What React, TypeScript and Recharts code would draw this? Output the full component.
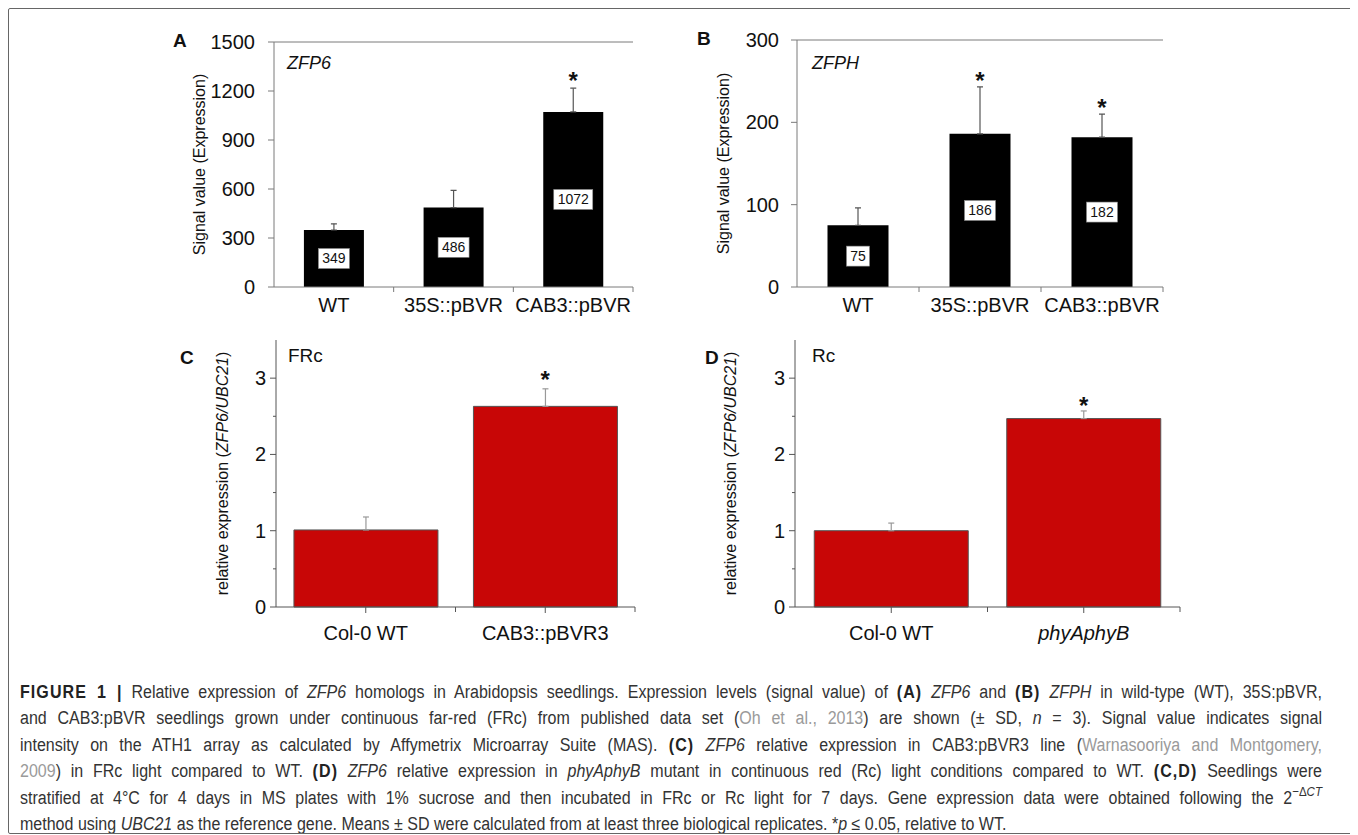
import React from "react";
import {
  ComposedChart,
  Bar,
  XAxis,
  YAxis,
  ErrorBar,
  Scatter,
  LabelList,
  ReferenceLine,
} from "recharts";

const FONT = 'Arial, "Liberation Sans", Helvetica, sans-serif';

// panel A – ZFP6 signal value
const aCategories = ["WT", "35S::pBVR", "CAB3::pBVR"];
const aValues = [349, 486, 1072];
const aSd = [38, 105, 145];
const aSig = [false, false, true];
const aTicks = [0, 300, 600, 900, 1200, 1500];

// panel B – ZFPH signal value
const bCategories = ["WT", "35S::pBVR", "CAB3::pBVR"];
const bValues = [75, 186, 182];
const bSd = [21, 57, 28];
const bSig = [false, true, true];
const bTicks = [0, 100, 200, 300];

// panel C – FRc, relative expression
const cCategories = ["Col-0 WT", "CAB3::pBVR3"];
const cValues = [1.01, 2.63];
const cSd = [0.17, 0.23];
const cSig = [false, true];

// panel D – Rc, relative expression
const dCategories = ["Col-0 WT", "phyAphyB"];
const dValues = [1.0, 2.47];
const dSd = [0.1, 0.1];
const dSig = [false, true];

const cdTicks = [0, 0.5, 1, 1.5, 2, 2.5, 3];

// the root's inner box starts at page (9, 9)
const OX = 9;
const OY = 9;

type Row = { name: string; value: number; err: [number, number]; star: number | null };

function buildRows(cats: string[], vals: number[], sds: number[], sig: boolean[]): Row[] {
  return cats.map((name, i) => ({
    name,
    value: vals[i],
    err: [0, sds[i]],
    star: sig[i] ? vals[i] + sds[i] : null,
  }));
}

function StarShape(props: any) {
  const { cx, cy, payload } = props;
  if (!payload || payload.star == null || !Number.isFinite(cx) || !Number.isFinite(cy)) return <g />;
  return (
    <text x={cx} y={cy + props.gap} textAnchor="middle" fontSize={24} fontWeight="bold" fontFamily={FONT} fill="#111">
      *
    </text>
  );
}

function ValueBox(props: any) {
  const vb = props.viewBox && Number.isFinite(props.viewBox.x) ? props.viewBox : props;
  const cx = vb.x + vb.width / 2;
  const cy = vb.y + vb.height / 2;
  const label = String(props.value);
  const w = label.length * 8 + 7;
  const h = 20;
  return (
    <g>
      <rect x={cx - w / 2} y={cy - h / 2} width={w} height={h} fill="#fff" stroke="#888" strokeWidth={0.6} />
      <text x={cx} y={cy + 5} textAnchor="middle" fontSize={14} fontFamily={FONT} fill="#111">
        {label}
      </text>
    </g>
  );
}

function makeXTick(n: number, plotW: number, opts: { labelGap: number; centerTick: boolean; stroke: string; italic?: string[] }) {
  const band = plotW / n;
  return (props: any) => {
    const { x, y, payload } = props;
    const it = opts.italic && opts.italic.includes(payload.value);
    return (
      <g>
        {opts.centerTick && <line x1={x} x2={x} y1={y} y2={y + 6} stroke={opts.stroke} />}
        <line x1={x + band / 2} x2={x + band / 2} y1={y} y2={y + 5} stroke={opts.stroke} />
        <text
          x={x}
          y={y + opts.labelGap}
          textAnchor="middle"
          fontSize={20}
          fontFamily={FONT}
          fontStyle={it ? "italic" : "normal"}
          fill="#111"
        >
          {payload.value}
        </text>
      </g>
    );
  };
}

function makeYTick(opts: { gap: number; stroke: string; minor?: boolean; fontSize: number }) {
  return (props: any) => {
    const { x, y, payload } = props;
    const v = payload.value as number;
    const isMinor = opts.minor && !Number.isInteger(v);
    return (
      <g>
        <line x1={x - (isMinor ? 3 : 6)} x2={x} y1={y} y2={y} stroke={opts.stroke} />
        {!isMinor && (
          <text x={x - opts.gap} y={y + 7} textAnchor="end" fontSize={opts.fontSize} fontFamily={FONT} fill="#111">
            {v}
          </text>
        )}
      </g>
    );
  };
}

type Part = { t: string; i?: boolean };

function makeYTitle(parts: Part[], dist: number, fontSize: number) {
  return (props: any) => {
    const vb = props.viewBox;
    if (!vb) return null;
    const cx = vb.x + vb.width - dist + fontSize * 0.35;
    const cy = vb.y + vb.height / 2;
    return (
      <text
        transform={`translate(${cx},${cy}) rotate(-90)`}
        textAnchor="middle"
        fontSize={fontSize}
        fontFamily={FONT}
        fill="#111"
      >
        {parts.map((p, k) => (
          <tspan key={k} fontStyle={p.i ? "italic" : "normal"}>
            {p.t}
          </tspan>
        ))}
      </text>
    );
  };
}

type PanelProps = {
  rows: Row[];
  left: number;
  top: number;
  width: number;
  height: number;
  margin: { top: number; right: number; bottom: number; left: number };
  yWidth: number;
  domain: [number, number];
  ticks: number[];
  yTick: (p: any) => React.ReactElement;
  xTick: (p: any) => React.ReactElement;
  yTitle: (p: any) => React.ReactElement | null;
  axisStroke: string;
  frame: boolean;
  barFill: string;
  barStroke?: string;
  errStroke: string;
  errWidth: number;
  gap: string;
  boxes: boolean;
  starGap: number;
};

function Panel(p: PanelProps) {
  return (
    <div style={{ position: "absolute", left: p.left - OX, top: p.top - OY }}>
      <ComposedChart width={p.width} height={p.height} data={p.rows} margin={p.margin} barCategoryGap={p.gap}>
        <XAxis
          dataKey="name"
          type="category"
          height={45}
          axisLine={{ stroke: p.axisStroke }}
          tickLine={false}
          tickSize={0}
          tickMargin={0}
          interval={0}
          tick={p.xTick}
        />
        <YAxis
          width={p.yWidth}
          domain={p.domain}
          ticks={p.ticks}
          interval={0}
          allowDecimals
          axisLine={{ stroke: p.axisStroke }}
          tickLine={false}
          tickSize={0}
          tickMargin={0}
          tick={p.yTick}
          label={p.yTitle}
        />
        {p.frame && (
          <YAxis yAxisId="frame" orientation="right" width={0} tick={false} tickLine={false} axisLine={{ stroke: p.axisStroke }} />
        )}
        {p.frame && <ReferenceLine y={p.domain[1]} stroke={p.axisStroke} />}
        <Bar
          dataKey="value"
          fill={p.barFill}
          stroke={p.barStroke}
          strokeWidth={p.barStroke ? 1 : 0}
          isAnimationActive={false}
        >
          <ErrorBar dataKey="err" direction="y" width={p.errWidth} stroke={p.errStroke} strokeWidth={1.2} />
          {p.boxes && <LabelList dataKey="value" position="center" content={ValueBox} />}
        </Bar>
        <Scatter
          dataKey="star"
          isAnimationActive={false}
          shape={(sp: any) => <StarShape {...sp} gap={p.starGap} />}
        />
      </ComposedChart>
    </div>
  );
}

function Tag({ x, y, size, bold, italic, children }: any) {
  return (
    <div
      style={{
        position: "absolute",
        left: x - OX,
        top: y - OY - size * 0.49,
        fontSize: size,
        lineHeight: `${size}px`,
        fontWeight: bold ? "bold" : "normal",
        fontStyle: italic ? "italic" : "normal",
        fontFamily: FONT,
        color: "#111",
        whiteSpace: "nowrap",
      }}
    >
      {children}
    </div>
  );
}

const gray = { color: "#9a9a9a" };
const CAPTION_SCALE = 0.89;

function B({ children }: { children: React.ReactNode }) {
  return <b style={{ letterSpacing: "1.2px", color: "#222" }}>{children}</b>;
}

const captionLines: React.ReactNode[] = [
  <>
    <B>FIGURE 1 |</B> Relative expression of <i>ZFP6</i> homologs in Arabidopsis seedlings. Expression levels (signal value) of{" "}
    <B>(A)</B> <i>ZFP6</i> and <B>(B)</B> <i>ZFPH</i> in wild-type (WT), 35S:pBVR,
  </>,
  <>
    and CAB3:pBVR seedlings grown under continuous far-red (FRc) from published data set (<span style={gray}>Oh et al., 2013</span>) are
    shown (± SD, <i>n</i> = 3). Signal value indicates signal
  </>,
  <>
    intensity on the ATH1 array as calculated by Affymetrix Microarray Suite (MAS). <B>(C)</B> <i>ZFP6</i> relative expression in
    CAB3:pBVR3 line (<span style={gray}>Warnasooriya and Montgomery,</span>
  </>,
  <>
    <span style={gray}>2009</span>) in FRc light compared to WT. <B>(D)</B> <i>ZFP6</i> relative expression in <i>phyAphyB</i> mutant in
    continuous red (Rc) light conditions compared to WT. <B>(C,D)</B> Seedlings were
  </>,
  <>
    stratified at 4°C for 4 days in MS plates with 1% sucrose and then incubated in FRc or Rc light for 7 days. Gene expression data were
    obtained following the 2
    <span style={{ fontSize: "0.72em", position: "relative", top: "-0.55em", lineHeight: 0 }}>
      −Δ<i>CT</i>
    </span>
  </>,
  <>
    method using <i>UBC21</i> as the reference gene. Means ± SD were calculated from at least three biological replicates. *<i>p</i> ≤ 0.05,
    relative to WT.
  </>,
];

export default function App() {
  const rowsA = buildRows(aCategories, aValues, aSd, aSig);
  const rowsB = buildRows(bCategories, bValues, bSd, bSig);
  const rowsC = buildRows(cCategories, cValues, cSd, cSig);
  const rowsD = buildRows(dCategories, dValues, dSd, dSig);

  const abAxis = "#7a7a7a";
  const cdAxis = "#555";

  return (
    <div
      style={{
        position: "relative",
        width: 1345,
        height: 826,
        border: "1px solid #666",
        borderRadius: 2,
        boxSizing: "border-box",
        background: "#fff",
        fontFamily: FONT,
        overflow: "hidden",
      }}
    >
      {/* A: plot 274..633 x 42..287 */}
      <Panel
        rows={rowsA}
        left={150}
        top={20}
        width={500}
        height={22 + 245 + 45}
        margin={{ top: 22, right: 17, bottom: 0, left: 50 }}
        yWidth={74}
        domain={[0, 1500]}
        ticks={aTicks}
        yTick={makeYTick({ gap: 19, stroke: abAxis, fontSize: 20 })}
        xTick={makeXTick(aCategories.length, 359, { labelGap: 25, centerTick: false, stroke: abAxis })}
        yTitle={makeYTitle([{ t: "Signal value (Expression)" }], 75, 16)}
        axisStroke={abAxis}
        frame
        barFill="#000"
        errStroke="#555"
        errWidth={3}
        gap="25%"
        boxes
        starGap={1}
      />
      {/* B: plot 797..1163 x 40..287 */}
      <Panel
        rows={rowsB}
        left={680}
        top={18}
        width={500}
        height={22 + 247 + 45}
        margin={{ top: 22, right: 17, bottom: 0, left: 43 }}
        yWidth={74}
        domain={[0, 300]}
        ticks={bTicks}
        yTick={makeYTick({ gap: 18, stroke: abAxis, fontSize: 20 })}
        xTick={makeXTick(bCategories.length, 366, { labelGap: 25, centerTick: false, stroke: abAxis })}
        yTitle={makeYTitle([{ t: "Signal value (Expression)" }], 74, 16)}
        axisStroke={abAxis}
        frame
        barFill="#000"
        errStroke="#555"
        errWidth={3}
        gap="25%"
        boxes
        starGap={2}
      />
      {/* C: plot 276..635 x 340..607 */}
      <Panel
        rows={rowsC}
        left={180}
        top={330}
        width={470}
        height={10 + 267 + 45}
        margin={{ top: 10, right: 15, bottom: 0, left: 40 }}
        yWidth={56}
        domain={[0, 3.5]}
        ticks={cdTicks}
        yTick={makeYTick({ gap: 10, stroke: cdAxis, minor: true, fontSize: 20 })}
        xTick={makeXTick(cCategories.length, 359, { labelGap: 33, centerTick: true, stroke: cdAxis })}
        yTitle={makeYTitle(
          [{ t: "relative expression (" }, { t: "ZFP6/UBC21", i: true }, { t: ")" }],
          54,
          16
        )}
        axisStroke={cdAxis}
        frame={false}
        barFill="#c80606"
        barStroke="#555"
        errStroke="#999"
        errWidth={3}
        gap="10%"
        boxes={false}
        starGap={-1}
      />
      {/* D: plot 795..1180 x 340..607 */}
      <Panel
        rows={rowsD}
        left={700}
        top={330}
        width={500}
        height={10 + 267 + 45}
        margin={{ top: 10, right: 20, bottom: 0, left: 40 }}
        yWidth={55}
        domain={[0, 3.5]}
        ticks={cdTicks}
        yTick={makeYTick({ gap: 10, stroke: cdAxis, minor: true, fontSize: 20 })}
        xTick={makeXTick(dCategories.length, 385, {
          labelGap: 33,
          centerTick: true,
          stroke: cdAxis,
          italic: ["phyAphyB"],
        })}
        yTitle={makeYTitle(
          [{ t: "relative expression (" }, { t: "ZFP6/UBC21", i: true }, { t: ")" }],
          65,
          16
        )}
        axisStroke={cdAxis}
        frame={false}
        barFill="#c80606"
        barStroke="#555"
        errStroke="#999"
        errWidth={3}
        gap="10%"
        boxes={false}
        starGap={3}
      />

      <Tag x={173} y={40} size={19} bold>
        A
      </Tag>
      <Tag x={697} y={38} size={19} bold>
        B
      </Tag>
      <Tag x={180} y={357} size={19} bold>
        C
      </Tag>
      <Tag x={705} y={357} size={19} bold>
        D
      </Tag>
      <Tag x={287} y={63} size={18} italic>
        ZFP6
      </Tag>
      <Tag x={812} y={63} size={18} italic>
        ZFPH
      </Tag>
      <Tag x={288} y={355} size={19}>
        FRc
      </Tag>
      <Tag x={812} y={355} size={19}>
        Rc
      </Tag>

      {captionLines.map((line, k) => (
        <div
          key={k}
          style={{
            position: "absolute",
            left: 20 - OX,
            top: 692 - OY - 13 + k * 26.4,
            width: 1302 / CAPTION_SCALE,
            height: 26,
            lineHeight: "26px",
            fontSize: 18,
            fontFamily: FONT,
            color: "#333",
            textAlign: "justify",
            textAlignLast: k < captionLines.length - 1 ? "justify" : "left",
            whiteSpace: "nowrap",
            transform: `scaleX(${CAPTION_SCALE})`,
            transformOrigin: "0 0",
          }}
        >
          {line}
        </div>
      ))}
    </div>
  );
}
